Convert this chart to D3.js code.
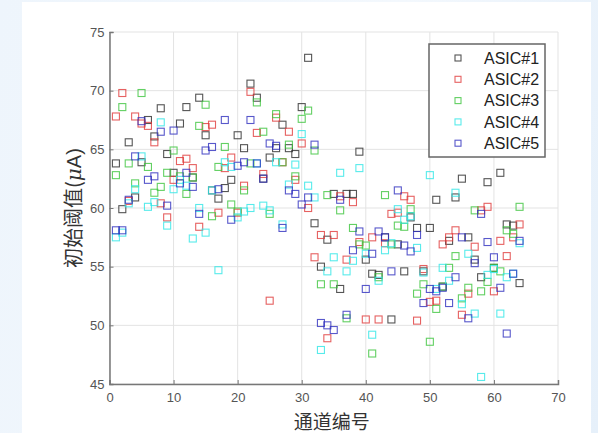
<!DOCTYPE html>
<html lang="zh">
<head>
<meta charset="utf-8">
<title>初始阈值</title>
<script src="https://d3js.org/d3.v7.min.js"></script>
<style>
  html, body { margin: 0; padding: 0; }
  body {
    width: 598px; height: 433px; overflow: hidden;
    background: linear-gradient(100deg, #eef5fc 0%, #f3f8fd 60%, #e6f0fa 100%);
  }
  #card {
    position: absolute; left: 22px; top: 2px; width: 569px; height: 431px;
    background: #fff;
  }
  svg { position: absolute; left: 0; top: 0; }
  .tick text { font-family: "Liberation Sans", Arial, sans-serif; font-size: 13px; fill: #555; }
</style>
</head>
<body>
<div id="card"></div>
<svg id="chart" width="598" height="433"></svg>
<script>
// channels 1..64
const channels = d3.range(1, 65);
const xTicks = [0, 10, 20, 30, 40, 50, 60, 70];
const yTicks = [45, 50, 55, 60, 65, 70, 75];
const seriesNames = ["ASIC#1", "ASIC#2", "ASIC#3", "ASIC#4", "ASIC#5"];
const seriesColors = ["#2a2a2a", "#e03a3a", "#3cc43c", "#2ee6e6", "#2e2ebe"];

// initial threshold per channel (uA)
const asic1 = [63.8,59.9,65.6,60.9,63.9,67.5,66.1,68.5,64.6,63.0,67.2,68.6,62.6,69.4,66.2,61.5,
  60.8,61.7,62.4,66.2,65.1,70.6,69.4,62.5,64.3,65.1,67.1,65.1,64.6,68.6,72.8,58.7,
  55.0,57.3,61.2,53.1,61.2,61.2,64.8,55.6,54.4,54.3,57.5,50.5,56.9,54.6,59.2,58.3,
  54.6,58.3,60.7,53.3,57.2,60.9,62.5,57.5,55.6,54.1,62.2,54.9,63.0,58.6,58.5,53.6];
const asic2 = [67.8,69.8,60.6,67.8,67.2,67.0,65.6,60.4,59.2,62.4,64.0,64.2,63.4,58.4,66.9,67.1,
  59.6,63.4,64.3,59.6,61.9,69.9,66.4,62.9,52.1,67.7,63.9,66.5,62.4,65.5,60.0,55.8,
  57.7,48.9,57.7,61.0,55.6,60.5,57.1,50.5,57.5,50.5,57.0,59.5,59.6,61.0,60.7,50.4,
  54.8,52.0,52.1,56.9,57.5,58.1,50.9,52.7,56.7,59.8,60.1,52.9,57.2,55.9,57.5,58.6];
const asic3 = [62.8,68.6,63.8,62.1,69.8,63.5,61.3,61.8,63.0,64.9,62.7,61.2,62.6,67.0,68.8,59.3,
  63.5,65.2,60.3,59.7,61.5,63.8,69.0,66.5,59.5,68.0,63.9,65.4,62.7,67.6,68.3,64.9,
  53.5,61.1,53.5,59.8,50.6,58.3,56.9,56.8,47.6,54.1,61.1,56.9,58.5,58.4,59.9,52.7,
  53.5,48.6,51.4,53.3,54.9,55.9,52.3,53.2,59.8,52.9,53.7,54.9,54.6,58.1,57.8,60.1];
const asic4 = [57.5,57.9,60.4,61.6,64.4,60.1,60.5,67.3,58.5,61.6,62.4,61.9,57.4,60.0,57.9,61.5,
  54.7,63.9,63.5,59.2,59.7,60.0,63.8,60.2,59.8,63.9,58.6,62.0,63.7,66.3,61.9,60.9,
  47.9,54.6,55.8,63.0,54.6,55.5,63.4,56.1,49.2,53.8,56.4,57.0,59.9,59.0,59.3,56.6,
  54.5,62.8,53.1,54.9,53.8,61.3,51.8,56.1,51.0,45.6,54.3,54.8,51.0,54.1,54.4,57.0];
const asic5 = [58.1,58.1,60.7,64.4,67.4,62.4,62.7,66.5,60.2,66.6,62.1,63.0,61.8,59.5,64.9,65.2,
  61.6,67.5,59.0,63.6,63.9,67.5,63.8,62.5,65.5,65.3,58.3,61.5,61.2,60.3,60.9,65.4,
  50.2,50.0,49.6,60.7,50.9,56.4,58.0,53.1,56.1,58.0,57.5,54.6,61.5,56.8,56.3,57.7,
  51.9,53.1,52.9,53.2,51.9,54.1,57.5,50.6,55.3,59.5,57.1,55.8,53.2,49.3,54.4,57.2];
const seriesValues = [asic1, asic2, asic3, asic4, asic5];

const svg = d3.select("#chart");
const margin = {top: 32, right: 40, bottom: 49, left: 109.5};
const W = 598, H = 433;

const x = d3.scaleLinear().domain([0, 70]).range([margin.left, W - margin.right]);
const y = d3.scaleLinear().domain([45, 75]).range([H - margin.bottom, margin.top]);

// grid
const grid = svg.append("g").attr("stroke", "#e3e3e3").attr("stroke-width", 1);
xTicks.forEach(t => grid.append("line")
  .attr("x1", x(t)).attr("x2", x(t)).attr("y1", y(45)).attr("y2", y(75)));
yTicks.forEach(t => grid.append("line")
  .attr("x1", x(0)).attr("x2", x(70)).attr("y1", y(t)).attr("y2", y(t)));

// points
seriesValues.forEach((vals, i) => {
  svg.append("g")
    .selectAll("rect")
    .data(channels)
    .join("rect")
    .attr("x", d => x(d) - 3.5)
    .attr("y", (d, j) => y(vals[j]) - 3.5)
    .attr("width", 7).attr("height", 7)
    .attr("fill", "none")
    .attr("stroke", seriesColors[i])
    .attr("stroke-width", 1.1)
    .attr("opacity", 0.8);
});

// axes (inward ticks)
const xAxis = svg.append("g").attr("transform", `translate(0,${y(45)})`)
  .call(d3.axisBottom(x).tickValues(xTicks).tickSize(-4).tickPadding(9).tickFormat(d3.format("d")));
const yAxis = svg.append("g").attr("transform", `translate(${x(0)},0)`)
  .call(d3.axisLeft(y).tickValues(yTicks).tickSize(-4).tickPadding(5).tickFormat(d3.format("d")));
[xAxis, yAxis].forEach(a => {
  a.select(".domain").attr("stroke", "#777").attr("stroke-width", 1.5);
  a.selectAll(".tick line").attr("stroke", "#777").attr("stroke-width", 1);
});

// axis labels
svg.append("text")
  .attr("x", x(35) - 2).attr("y", 429)
  .attr("text-anchor", "middle")
  .attr("font-family", "'Noto Sans CJK SC', sans-serif")
  .attr("font-size", 19).attr("fill", "#333")
  .text("通道编号");

const yl = svg.append("text")
  .attr("transform", `translate(81,${(y(45) + y(75)) / 2}) rotate(-90)`)
  .attr("text-anchor", "middle")
  .attr("font-family", "'Noto Sans CJK SC', sans-serif")
  .attr("font-size", 20).attr("fill", "#333");
yl.append("tspan").text("初始阈值(");
yl.append("tspan").attr("font-style", "italic").attr("font-family", "'DejaVu Serif', serif").text("μ");
yl.append("tspan").attr("font-family", "'Liberation Sans', Arial, sans-serif").text("A)");

// legend
const lg = svg.append("g");
lg.append("rect")
  .attr("x", 429).attr("y", 44).attr("width", 116).attr("height", 113)
  .attr("fill", "#fff").attr("stroke", "#666").attr("stroke-width", 1.5);
seriesNames.forEach((name, i) => {
  const cy = 58 + i * 21.3;
  lg.append("rect")
    .attr("x", 455).attr("y", cy - 3).attr("width", 6).attr("height", 6)
    .attr("fill", "none").attr("stroke", seriesColors[i]).attr("stroke-width", 1.1).attr("opacity", 0.8);
  lg.append("text")
    .attr("x", 484).attr("y", cy).attr("dy", "0.36em")
    .attr("font-family", "'Liberation Sans', Arial, sans-serif")
    .attr("font-size", 16).attr("fill", "#222")
    .text(name);
});
</script>
</body>
</html>
